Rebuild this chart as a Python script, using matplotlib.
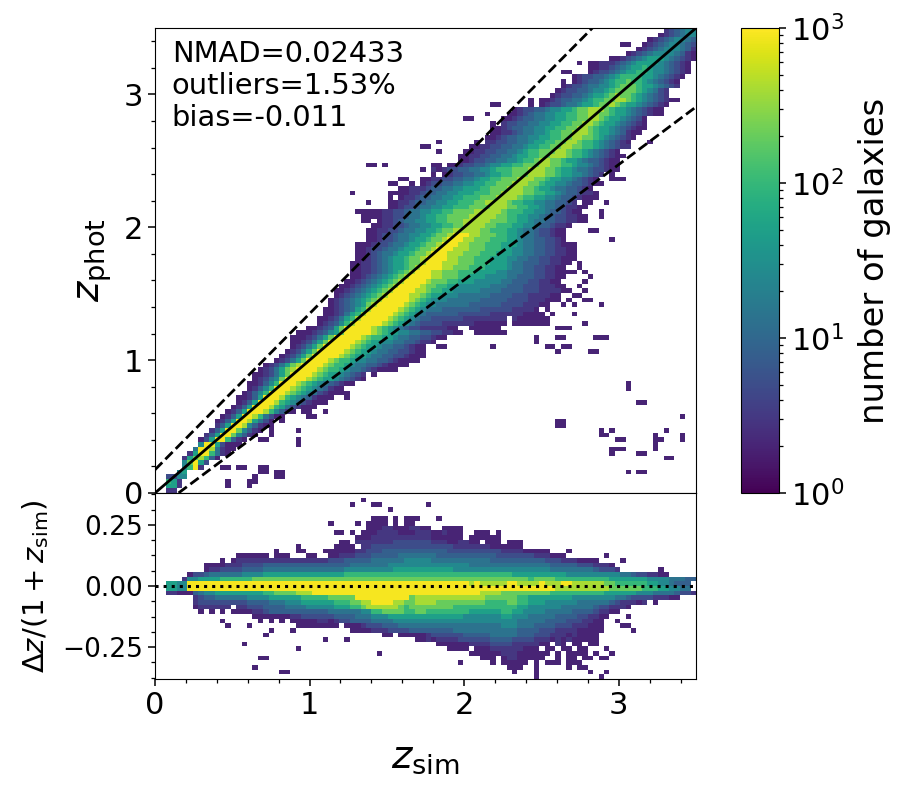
#!/usr/bin/env python3
"""Photo-z vs simulated redshift density plot with a residual panel below it."""

import numpy as np
import matplotlib

matplotlib.use("Agg")
import matplotlib.pyplot as plt
from matplotlib.colors import LogNorm
from matplotlib.ticker import AutoMinorLocator, MultipleLocator

# galaxy count stored for each level character in the binned tables
LEVEL_CHARS = "0123456789a"
LEVEL_COUNTS = [2, 3, 5, 8, 14, 25, 50, 100, 200, 400, 900]

# z_phot histogram, one (first z_sim bin, levels) entry per z_phot bin, lowest first
TOP_BANDS = [
    (2, "11"),
    (2, "661"),
    (2, "761"),
    (2, "2255"),
    (4, "56"),
    (5, "57a1"),
    (5, "58a62"),
    (5, "1689730"),
    (6, "16aa7410"),
    (7, "4aa94100"),
    (8, "5aa62000"),
    (8, "026aa7310"),
    (9, "136aa8531" + "0"),
    (10, "136aa85310"),
    (11, "136aa953100"),
    (11, "0136aa96420.0"),
    (12, "0136aa974200"),
    (13, "0136aaa975310.0"),
    (14, "0136aaa976421000"),
    (15, "0136aaa9765421000"),
    (15, "00136aaa97654310.0"),
    (16, "01357aaa987654210.0"),
    (17, "01357aaa9876543100"),
    (17, "001357aaa98765432100"),
    (18, "012458aaaa98766543210"),
    (18, "0012468aaaa9876654321.0"),
    (19, "0124689aaaa987765443210000"),
    (20, "0124689aaaa9877654433210000"),
    (22, "012468aaaa98776554433210000"),
    (23, "012468aaaaa9876654433221000"),
    (24, "012468aaaaa987665443322100"),
    (25, "012468aaaaa98766544332100"),
    (25, "0012468aaaaa987665544332110"),
    (25, "00012468aaaaa9877665443322100"),
    (26, "000123568aaaaa98766554433221100..000000"),
    (28, "0012368aaaaa987654322" + "1111100" + ".." + "000000"),
    (30, "0123579" + "aaaaa" + "9876543" + "2222111111000000" + "." + "0000000"),
    (30, "00124679" + "aaaaa" + "98765433" + "22222211111111" + "." + "1000000"),
    (31, "00124679" + "aaaaa" + "987654333" + "333222222111" + "1110000" + ".0"),
    (31, "001234679" + "aaaaa" + "987654443" + "33333322222" + "211110" + ".0"),
    (32, "012345689" + "aaaaa" + "987655444" + "4443333332" + "22211100"),
    (32, "0123456789" + "aaaaa" + "987655544" + "444433333" + "2222111000"),
    (33, "0123456789" + "aaaa" + "9987665554" + "44444333" + "3222111100"),
    (33, "00123456789" + "aaaa" + "9987766555" + "5544443" + "333222111100"),
    (34, "00123456789" + "aaaa" + "9887766555" + "555444" + "33322211100"),
    (35, "00123456789" + "aaaa" + "9888776665" + "55554" + "4333221100"),
    (36, "00123456789" + "aaaa" + "9988877666" + "5555" + "44333221100"),
    (36, "001123456789" + "aaa" + "99888777666" + "655" + "4443322110000"),
    (36, "0011234566789" + "aaaa" + "9988877766" + "66" + "54433221100"),
    (36, "00112345667889" + "aaa" + "99988877766" + "6" + "544333221100"),
    (37, "0012345667889" + "aaaa" + "99888777666" + "5544332211000"),
    (37, "00123445667889" + "aaa" + "99988877766" + "6554433221100"),
    (37, "001223445667889" + "aaa" + "9998887776" + "6554433221100"),
    (38, "001223445667889" + "aaa" + "998887776" + "6654433221000"),
    (39, "001223445667889" + "aaa" + "99888777" + "66544332210"),
    (39, "0012234455667889" + "aaa" + "9988877" + "66544322100"),
    (39, "00112234455667889" + "999" + "988777" + "66544322100"),
    (40, "001122344556677889" + "999" + "88777" + "66554332110"),
    (38, "00.011234455667788899999888776654433221100"),
    (41, "011223445667788889999988776655433221100"),
    (39, "00.1122344556677888899999877766554332100"),
    (43, "0012234455667778888999887766544321100"),
    (43, "00112334455667778899998776655443321.00"),
    (43, "0.0112334455667778889999877665543321000"),
    (44, "00011233445566677788999988776654332110"),
    (45, "001112334455666778889998876654433210"),
    (47, "0.0122334455667788899988766554332100"),
    (49, "001122334456677888999887665543210"),
    (50, ".0.012233445667788899988766554321.0"),
    (49, "0.10122334455677788899988766544322100"),
    (51, "00.00122334556677888998877655432100"),
    (56, "001223344556778998876654332100"),
    (56, "0011223344566778899987765432100"),
    (57, "00112233445677888998776543210"),
    (58, "001122334456677889988776543211"),
    (59, "0.112233445667788998776543210"),
    (61, "0012334455667788998876543210"),
    (62, "0011234455677889998766543100"),
    (62, "00123344556677889987665432100"),
    (62, "0.122334455667788998766543210"),
    (64, "001233445566778899876654320"),
    (65, "00123445566778899887665432100"),
    (66, "0122334556678899987665432100"),
    (69, "0.012234456678898766543210"),
    (69, "0.00123344567788998765432100"),
    (73, "0122334566789887654321"),
    (74, "012233455678888765421"),
    (75, "0122344556788876654321"),
    (75, "0.0123345677877654321" + "0"),
    (77, "012233456777766543210"),
    (80, "0122345667765543210"),
    (80, "0011234566765543210"),
    (80, "001112345666654321" + "0"),
    (84, "00123456665432" + "10"),
    (87, "0123455554310"),
    (89, "01234555431"),
    (90, "0123455432"),
    (91, "012345543"),
    (93, "0123455"),
    (94, "123455"),
]

# isolated z_phot bins holding only a couple of galaxies: (z_sim bin, z_phot bin)
TOP_STRAYS = [
    (19, 4), (20, 4), (19, 5), (20, 5), (22, 3), (23, 3), (22, 4), (23, 4),
    (13, 2), (13, 1), (17, 2), (18, 2), (18, 3), (17, 1), (15, 5), (16, 5),
    (12, 5), (13, 5), (19, 11), (20, 11), (21, 12), (21, 13), (26, 10), (26, 11),
    (26, 13), (31, 20), (35, 20), (35, 21), (33, 21), (34, 21), (31, 17),
    (28, 16), (29, 16), (28, 17), (36, 64), (49, 74), (50, 74), (39, 70),
    (40, 70), (42, 70), (45, 67), (46, 67), (43, 66), (44, 66), (43, 64),
    (45, 65), (46, 65), (39, 62), (43, 62), (37, 60), (38, 60), (41, 60),
    (38, 59), (39, 59), (40, 59), (37, 53), (57, 80), (58, 80), (61, 81),
    (62, 83), (63, 83), (52, 75), (52, 73), (75, 90), (76, 90), (78, 92),
    (86, 96), (87, 96), (84, 54), (84, 67), (85, 67), (86, 67), (83, 62),
    (87, 22), (87, 23), (89, 19), (90, 19), (97, 16), (74, 14), (75, 14),
    (74, 15), (75, 15), (82, 13), (84, 13), (82, 12), (83, 12), (85, 11),
    (86, 11), (93, 11), (92, 9), (92, 10), (92, 11), (92, 12), (94, 13),
    (97, 11), (97, 12), (84, 8), (84, 9), (85, 9), (86, 9), (89, 8), (90, 8),
    (94, 7), (95, 7), (87, 4), (89, 4), (90, 4), (74, 30), (80, 30), (81, 30),
    (52, 31), (53, 31), (62, 31), (72, 31), (73, 31), (75, 31), (76, 31),
    (70, 32), (70, 33), (74, 33), (75, 33), (81, 33), (82, 33), (83, 33),
    (74, 35), (75, 35), (76, 35), (79, 36), (77, 38), (75, 40), (77, 40),
    (82, 40), (76, 41), (79, 41), (80, 41), (77, 42), (78, 42), (79, 43),
    (78, 44), (79, 45), (80, 46), (79, 47), (78, 48), (78, 49), (81, 56),
    (80, 56), (82, 59), (82, 60), (91, 75),
]

# residual histogram, same layout as TOP_BANDS, lowest residual bin first
RESID_BANDS = [
    (70, "0"),
    (66, "0"),
    (65, "000..0.....0.00"),
    (62, "0.00000.0.000.000"),
    (60, "000.01100000..0.00.00.0"),
    (58, "000000111000000.0.0000.0"),
    (54, "0000.00011111100" + "0.00.00.00"),
    (52, "00000011" + "1122221111" + "100.10.00." + "0"),
    (48, "00" + "1011112222" + "2233332222" + "1110101000" + "00"),
    (42, "00.00000" + "1222222333" + "3344444333" + "2221110100" + "00"),
    (36, "0000" + "1112222333" + "3333344444" + "4444444333" + "3222111100" + "000"),
    (26, "0000" + "0000.00012" + "2233344444" + "4444444444" + "4444555444" + "3333222111" + "000"),
    (19, "0" + ".0.0.00000" + "1101223333" + "4444555555" + "5555555555" + "5555555444" + "4433332221" + "100"),
    (18, "00" + "0000011222" + "2223333444" + "5556666666" + "6666666555" + "5555665554" + "4444333322" + "1100"),
    (8, "0.0.0.000011" + "2333333333" + "3344444455" + "7788887788" + "7777777766" + "6666776655" + "5544444333" + "321100"),
    (7, "0111" + "111.11222" + "3333444455" + "5556667789" + "999998" + "788" + "888888777777" + "777777665" + "5555544444" + "43221110"),
    (7, "1222" + "222222333" + "3444555666" + "66677788" + "99aaaa99" + "88" + "9999888888888" + "777788776" + "6655555544" + "4444321110" + "1.0"),
    (7, "1233" + "444444555" + "566666677" + "77788888" + "aaaaaaaaaa" + "8" + "9999999999999" + "888888776" + "6666666555" + "5555544322" + "2211100"),
    (2, "11000345" + "5666666666" + "778888999" + "aaaaaaaaaaa" + "aaaaaaaaaaaaaaaa" + "aaaa" + "9999888888" + "8887777777" + "7776666665" + "5544443221"),
    (2, "6655a" + "aa" + "aaaaaaaaaa" + "aaaaaaaaaa" + "aaaaaaaaaa" + "aaaaaaaaaa" + "aaaaaaaaaa" + "aaaaaaaaaa" + "aaaaa99999" + "9999988888" + "8777665544"),
    (2, "6655a" + "aa" + "aaaaaaaaaa" + "aaaaaaaaaa" + "aaaaaaaaaa" + "aaaaaaaaaa" + "aaaaaaaaa9" + "a99999aa99" + "99a999aa99" + "9999887777" + "7766554333"),
    (5, "15566" + "6677777788" + "8888888888" + "8888888888" + "8888888888" + "8888888888" + "8888888887" + "8888777777" + "7777666666" + "6555544433"),
    (6, "0223" + "4444445555" + "6666666666" + "6666677777" + "7777777777" + "7777777777" + "7777776666" + "6666665555" + "5555554432" + "21100"),
    (9, "0" + "1122223333" + "4444444444" + "4444455555" + "5555666666" + "6666655555" + "5555555555" + "5554444444" + "432221"),
    (9, "0000" + "1112222" + "3333333333" + "3333334444" + "4445555555" + "5555555544" + "4444444444" + "4443333322" + "21110"),
    (12, "0.0" + "11111" + "1111111111" + "1122233333" + "4444445555" + "5444444444" + "4433333333" + "3322211100" + "0"),
    (15, "000000.000...00..00111222" + "3333344444" + "4433333333" + "3332222222" + "111000"),
    (32, "0000011" + "22233333333" + "3333222222" + "2222111100" + "000"),
    (33, "0000." + "112222222222" + "2222211111" + "11000000"),
    (34, "00." + "1111111222222" + "2111001100" + ".000.000"),
    (37, "0001111111111" + "1000000" + ".000000"),
    (36, "0.00011110001" + "11001000" + "..000.0"),
    (39, "0001100011" + "00..0000"),
    (39, "0000.0.00"),
    (40, "000.0.000"),
]

# isolated residual bins: (z_sim bin, residual bin)
RESID_STRAYS = [
    (26, 28), (26, 27), (27, 27), (22, 27), (31, 27), (32, 33), (33, 31), (34, 31),
    (36, 31), (37, 33), (36, 37), (38, 38), (40, 37), (41, 37), (43, 36), (50, 37),
    (52, 34), (53, 32), (59, 31), (60, 31), (61, 31), (63, 31), (76, 27), (83, 26),
    (81, 25), (86, 25), (93, 23), (94, 22), (16, 7), (19, 4), (20, 4), (18, 2),
    (23, 1), (24, 1), (26, 6), (41, 5), (21, 10), (20, 9), (25, 10), (13, 11),
    (12, 12), (17, 11), (31, 8), (35, 8), (56, 3), (66, 1), (70, 1), (80, 1),
    (83, 1), (82, 0), (83, 4), (84, 5), (83, 6), (81, 7), (85, 12), (86, 11),
    (87, 11), (88, 10), (87, 13),
]

ZMAX = 3.5
RESID_MAX = 0.38
# offsets of the outlier limits, as a fraction of (1 + z)
LIMIT_UP = 0.175
LIMIT_DOWN = 0.132

SUMMARY = "NMAD=0.02433\noutliers=1.53%\nbias=-0.011"


def build_grid(bands, strays, n_rows, n_cols=100):
    grid = np.full((n_rows, n_cols), np.nan)
    for row, (start, levels) in enumerate(bands):
        for offset, ch in enumerate(levels):
            col = start + offset
            if ch != "." and col < n_cols:
                grid[row, col] = LEVEL_COUNTS[LEVEL_CHARS.index(ch)]
    for col, row in strays:
        if np.isnan(grid[row, col]):
            grid[row, col] = LEVEL_COUNTS[0]
    return np.ma.masked_invalid(grid)


def main() -> None:
    fig = plt.figure(figsize=(9.09, 7.90), dpi=100)
    ax_top = fig.add_axes([155 / 909, 1 - 493 / 790, 541 / 909, 465 / 790])
    ax_res = fig.add_axes([155 / 909, 1 - 679 / 790, 541 / 909, 186 / 790])
    cax = fig.add_axes([741 / 909, 1 - 493 / 790, 38 / 909, 465 / 790])

    norm = LogNorm(vmin=1, vmax=1000)
    x_edges = np.linspace(0, ZMAX, 101)

    top_grid = build_grid(TOP_BANDS, TOP_STRAYS, 100)
    mesh = ax_top.pcolormesh(x_edges, np.linspace(0, ZMAX, 101), top_grid, cmap="viridis", norm=norm)

    res_grid = build_grid(RESID_BANDS, RESID_STRAYS, 40)
    ax_res.pcolormesh(x_edges, np.linspace(-RESID_MAX, RESID_MAX, 41), res_grid, cmap="viridis", norm=norm)

    z = np.array([0, ZMAX])
    ax_top.plot(z, z, color="k", lw=2.0)
    ax_top.plot(z, z + LIMIT_UP * (1 + z), color="k", lw=2.0, ls="--")
    ax_top.plot(z, z - LIMIT_DOWN * (1 + z), color="k", lw=2.0, ls="--")
    ax_res.plot(z, [0, 0], color="k", lw=2.2, ls=":")

    ax_top.set_xlim(0, ZMAX)
    ax_top.set_ylim(0, ZMAX)
    ax_top.yaxis.set_major_locator(MultipleLocator(1))
    ax_top.yaxis.set_minor_locator(MultipleLocator(0.2))
    ax_top.tick_params(axis="x", bottom=False, which="both", labelbottom=False)
    ax_top.tick_params(axis="y", which="major", labelsize=22, length=5, width=1.1)
    ax_top.tick_params(axis="y", which="minor", length=3, width=0.9)
    ax_top.set_ylabel(r"$z_{\rm phot}$", fontsize=28, labelpad=7)
    ax_top.text(0.031, 0.975, SUMMARY, transform=ax_top.transAxes, fontsize=20.8, va="top", ha="left")

    ax_res.set_xlim(0, ZMAX)
    ax_res.set_ylim(-RESID_MAX, RESID_MAX)
    ax_res.xaxis.set_major_locator(MultipleLocator(1))
    ax_res.xaxis.set_minor_locator(MultipleLocator(0.2))
    ax_res.yaxis.set_major_locator(MultipleLocator(0.25))
    ax_res.yaxis.set_minor_locator(AutoMinorLocator(4))
    ax_res.tick_params(axis="x", which="major", labelsize=22, length=5, width=1.1)
    ax_res.tick_params(axis="y", which="major", labelsize=19, length=5, width=1.1)
    ax_res.tick_params(which="minor", length=3, width=0.9)
    ax_res.set_xlabel(r"$z_{\rm sim}$", fontsize=28, labelpad=13)
    ax_res.set_ylabel(r"$\Delta z/(1+z_{\rm sim})$", fontsize=21, labelpad=8)

    cbar = fig.colorbar(mesh, cax=cax)
    cbar.ax.tick_params(which="major", labelsize=22, length=5, width=1.1)
    cbar.ax.tick_params(which="minor", length=3, width=0.9)
    cbar.set_label("number of galaxies", fontsize=24.3, labelpad=10)

    fig.savefig("out.png", dpi=100)
    plt.close(fig)


if __name__ == "__main__":
    main()
